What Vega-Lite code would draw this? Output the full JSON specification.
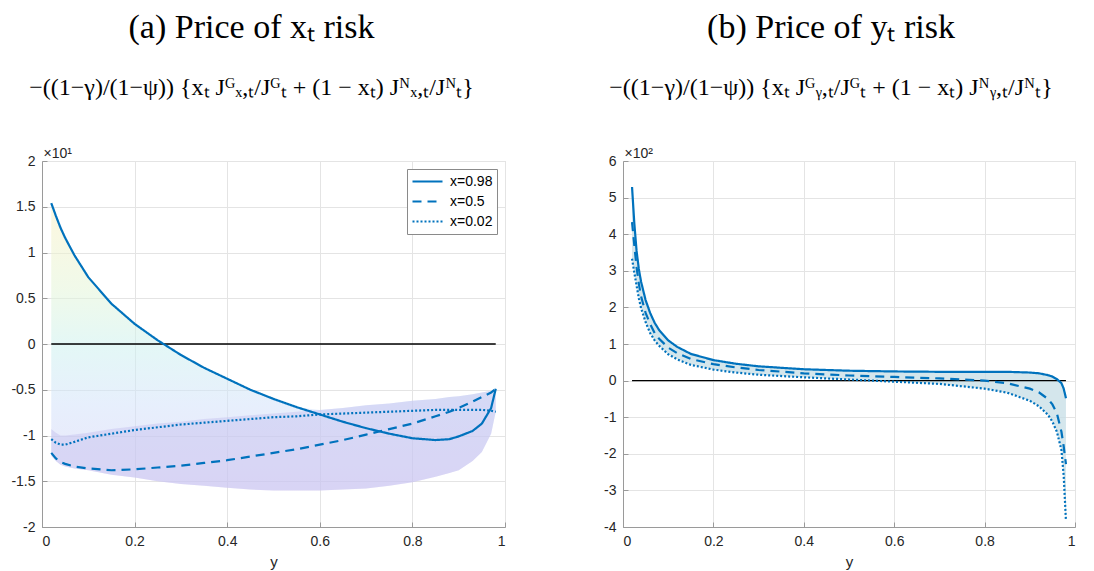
{
  "$schema": "https://vega.github.io/schema/vega-lite/v6.json",
  "background": "white",
  "padding": {"left": 10, "top": 10, "right": 5, "bottom": 2},
  "spacing": 97,
  "config": {
    "view": {"stroke": "#d4d4d4", "strokeWidth": 1},
    "axis": {
      "labelFont": "Liberation Sans", "labelFontSize": 14, "labelColor": "#262626", "labelOverlap": false,
      "titleFont": "Liberation Sans", "titleFontSize": 15, "titleColor": "#262626", "titleFontWeight": "normal",
      "gridColor": "#e4e4e4", "gridWidth": 1, "domainColor": "#9a9a9a", "tickColor": "#9a9a9a",
      "tickSize": -5, "labelPadding": 12
    },
    "title": {
      "font": "Liberation Serif", "fontSize": 34, "fontWeight": "normal", "color": "#000000",
      "subtitleFont": "Liberation Serif", "subtitleFontSize": 24, "subtitleColor": "#000000",
      "anchor": "middle", "subtitlePadding": 31, "offset": 46
    }
  },
  "datasets": {
    "leftLines": [
      {"y": 0.02, "x": "x=0.98", "v": 1.54}, {"y": 0.03, "x": "x=0.98", "v": 1.4}, {"y": 0.04, "x": "x=0.98", "v": 1.27}, {"y": 0.05, "x": "x=0.98", "v": 1.16}, {"y": 0.07, "x": "x=0.98", "v": 0.97}, {"y": 0.1, "x": "x=0.98", "v": 0.73}, {"y": 0.15, "x": "x=0.98", "v": 0.44}, {"y": 0.2, "x": "x=0.98", "v": 0.22}, {"y": 0.25, "x": "x=0.98", "v": 0.04}, {"y": 0.3, "x": "x=0.98", "v": -0.12}, {"y": 0.35, "x": "x=0.98", "v": -0.26}, {"y": 0.4, "x": "x=0.98", "v": -0.38}, {"y": 0.45, "x": "x=0.98", "v": -0.5}, {"y": 0.5, "x": "x=0.98", "v": -0.6}, {"y": 0.55, "x": "x=0.98", "v": -0.69}, {"y": 0.6, "x": "x=0.98", "v": -0.77}, {"y": 0.65, "x": "x=0.98", "v": -0.85}, {"y": 0.7, "x": "x=0.98", "v": -0.92}, {"y": 0.75, "x": "x=0.98", "v": -0.98}, {"y": 0.8, "x": "x=0.98", "v": -1.03}, {"y": 0.85, "x": "x=0.98", "v": -1.05}, {"y": 0.88, "x": "x=0.98", "v": -1.04}, {"y": 0.9, "x": "x=0.98", "v": -1.01}, {"y": 0.93, "x": "x=0.98", "v": -0.95}, {"y": 0.95, "x": "x=0.98", "v": -0.87}, {"y": 0.97, "x": "x=0.98", "v": -0.7}, {"y": 0.98, "x": "x=0.98", "v": -0.49},
      {"y": 0.02, "x": "x=0.5", "v": -1.19}, {"y": 0.03, "x": "x=0.5", "v": -1.25}, {"y": 0.04, "x": "x=0.5", "v": -1.29}, {"y": 0.05, "x": "x=0.5", "v": -1.31}, {"y": 0.07, "x": "x=0.5", "v": -1.34}, {"y": 0.1, "x": "x=0.5", "v": -1.36}, {"y": 0.15, "x": "x=0.5", "v": -1.38}, {"y": 0.2, "x": "x=0.5", "v": -1.37}, {"y": 0.25, "x": "x=0.5", "v": -1.35}, {"y": 0.3, "x": "x=0.5", "v": -1.33}, {"y": 0.35, "x": "x=0.5", "v": -1.3}, {"y": 0.4, "x": "x=0.5", "v": -1.27}, {"y": 0.45, "x": "x=0.5", "v": -1.23}, {"y": 0.5, "x": "x=0.5", "v": -1.19}, {"y": 0.55, "x": "x=0.5", "v": -1.15}, {"y": 0.6, "x": "x=0.5", "v": -1.1}, {"y": 0.65, "x": "x=0.5", "v": -1.05}, {"y": 0.7, "x": "x=0.5", "v": -0.99}, {"y": 0.75, "x": "x=0.5", "v": -0.93}, {"y": 0.8, "x": "x=0.5", "v": -0.87}, {"y": 0.85, "x": "x=0.5", "v": -0.79}, {"y": 0.88, "x": "x=0.5", "v": -0.74}, {"y": 0.9, "x": "x=0.5", "v": -0.7}, {"y": 0.93, "x": "x=0.5", "v": -0.63}, {"y": 0.95, "x": "x=0.5", "v": -0.58}, {"y": 0.97, "x": "x=0.5", "v": -0.53}, {"y": 0.98, "x": "x=0.5", "v": -0.49},
      {"y": 0.02, "x": "x=0.02", "v": -1.04}, {"y": 0.03, "x": "x=0.02", "v": -1.08}, {"y": 0.04, "x": "x=0.02", "v": -1.1}, {"y": 0.05, "x": "x=0.02", "v": -1.1}, {"y": 0.07, "x": "x=0.02", "v": -1.07}, {"y": 0.1, "x": "x=0.02", "v": -1.02}, {"y": 0.15, "x": "x=0.02", "v": -0.98}, {"y": 0.2, "x": "x=0.02", "v": -0.94}, {"y": 0.25, "x": "x=0.02", "v": -0.91}, {"y": 0.3, "x": "x=0.02", "v": -0.88}, {"y": 0.35, "x": "x=0.02", "v": -0.86}, {"y": 0.4, "x": "x=0.02", "v": -0.84}, {"y": 0.45, "x": "x=0.02", "v": -0.82}, {"y": 0.5, "x": "x=0.02", "v": -0.8}, {"y": 0.55, "x": "x=0.02", "v": -0.79}, {"y": 0.6, "x": "x=0.02", "v": -0.77}, {"y": 0.65, "x": "x=0.02", "v": -0.76}, {"y": 0.7, "x": "x=0.02", "v": -0.75}, {"y": 0.75, "x": "x=0.02", "v": -0.74}, {"y": 0.8, "x": "x=0.02", "v": -0.73}, {"y": 0.85, "x": "x=0.02", "v": -0.72}, {"y": 0.88, "x": "x=0.02", "v": -0.72}, {"y": 0.9, "x": "x=0.02", "v": -0.72}, {"y": 0.93, "x": "x=0.02", "v": -0.72}, {"y": 0.95, "x": "x=0.02", "v": -0.72}, {"y": 0.97, "x": "x=0.02", "v": -0.73}, {"y": 0.98, "x": "x=0.02", "v": -0.74}
    ],
    "leftBand": [
      {"y": 0.02, "lo": -1.22, "mid": -0.93, "hi": 1.54}, {"y": 0.03, "lo": -1.28, "mid": -0.97, "hi": 1.4}, {"y": 0.04, "lo": -1.32, "mid": -1.0, "hi": 1.27}, {"y": 0.05, "lo": -1.34, "mid": -1.0, "hi": 1.16}, {"y": 0.07, "lo": -1.36, "mid": -0.99, "hi": 0.97}, {"y": 0.1, "lo": -1.38, "mid": -0.97, "hi": 0.73}, {"y": 0.15, "lo": -1.43, "mid": -0.93, "hi": 0.44}, {"y": 0.2, "lo": -1.46, "mid": -0.9, "hi": 0.22}, {"y": 0.25, "lo": -1.5, "mid": -0.87, "hi": 0.04}, {"y": 0.3, "lo": -1.53, "mid": -0.85, "hi": -0.12}, {"y": 0.35, "lo": -1.55, "mid": -0.82, "hi": -0.26}, {"y": 0.4, "lo": -1.57, "mid": -0.8, "hi": -0.38}, {"y": 0.45, "lo": -1.59, "mid": -0.78, "hi": -0.5}, {"y": 0.5, "lo": -1.6, "mid": -0.76, "hi": -0.6}, {"y": 0.55, "lo": -1.6, "mid": -0.74, "hi": -0.69}, {"y": 0.6, "lo": -1.6, "mid": -0.72, "hi": -0.72}, {"y": 0.65, "lo": -1.59, "mid": -0.7, "hi": -0.7}, {"y": 0.7, "lo": -1.58, "mid": -0.67, "hi": -0.67}, {"y": 0.75, "lo": -1.55, "mid": -0.65, "hi": -0.65}, {"y": 0.8, "lo": -1.51, "mid": -0.62, "hi": -0.62}, {"y": 0.85, "lo": -1.45, "mid": -0.6, "hi": -0.6}, {"y": 0.88, "lo": -1.41, "mid": -0.58, "hi": -0.58}, {"y": 0.9, "lo": -1.38, "mid": -0.57, "hi": -0.57}, {"y": 0.93, "lo": -1.28, "mid": -0.55, "hi": -0.55}, {"y": 0.95, "lo": -1.18, "mid": -0.53, "hi": -0.53}, {"y": 0.97, "lo": -0.98, "mid": -0.51, "hi": -0.51}, {"y": 0.98, "lo": -0.74, "mid": -0.49, "hi": -0.49}
    ],
    "rightLines": [
      {"y": 0.02, "x": "x=0.98", "v": 5.29}, {"y": 0.025, "x": "x=0.98", "v": 4.3}, {"y": 0.03, "x": "x=0.98", "v": 3.55}, {"y": 0.035, "x": "x=0.98", "v": 3.05}, {"y": 0.04, "x": "x=0.98", "v": 2.7}, {"y": 0.05, "x": "x=0.98", "v": 2.2}, {"y": 0.06, "x": "x=0.98", "v": 1.85}, {"y": 0.07, "x": "x=0.98", "v": 1.58}, {"y": 0.08, "x": "x=0.98", "v": 1.38}, {"y": 0.1, "x": "x=0.98", "v": 1.1}, {"y": 0.12, "x": "x=0.98", "v": 0.92}, {"y": 0.15, "x": "x=0.98", "v": 0.73}, {"y": 0.2, "x": "x=0.98", "v": 0.56}, {"y": 0.25, "x": "x=0.98", "v": 0.46}, {"y": 0.3, "x": "x=0.98", "v": 0.39}, {"y": 0.4, "x": "x=0.98", "v": 0.31}, {"y": 0.5, "x": "x=0.98", "v": 0.27}, {"y": 0.6, "x": "x=0.98", "v": 0.25}, {"y": 0.7, "x": "x=0.98", "v": 0.24}, {"y": 0.8, "x": "x=0.98", "v": 0.24}, {"y": 0.85, "x": "x=0.98", "v": 0.24}, {"y": 0.9, "x": "x=0.98", "v": 0.22}, {"y": 0.92, "x": "x=0.98", "v": 0.2}, {"y": 0.94, "x": "x=0.98", "v": 0.15}, {"y": 0.95, "x": "x=0.98", "v": 0.11}, {"y": 0.96, "x": "x=0.98", "v": 0.04}, {"y": 0.97, "x": "x=0.98", "v": -0.07}, {"y": 0.975, "x": "x=0.98", "v": -0.22}, {"y": 0.98, "x": "x=0.98", "v": -0.48},
      {"y": 0.02, "x": "x=0.5", "v": 4.33}, {"y": 0.025, "x": "x=0.5", "v": 3.7}, {"y": 0.03, "x": "x=0.5", "v": 3.1}, {"y": 0.035, "x": "x=0.5", "v": 2.65}, {"y": 0.04, "x": "x=0.5", "v": 2.3}, {"y": 0.05, "x": "x=0.5", "v": 1.85}, {"y": 0.06, "x": "x=0.5", "v": 1.55}, {"y": 0.07, "x": "x=0.5", "v": 1.3}, {"y": 0.08, "x": "x=0.5", "v": 1.14}, {"y": 0.1, "x": "x=0.5", "v": 0.9}, {"y": 0.12, "x": "x=0.5", "v": 0.75}, {"y": 0.15, "x": "x=0.5", "v": 0.59}, {"y": 0.2, "x": "x=0.5", "v": 0.45}, {"y": 0.25, "x": "x=0.5", "v": 0.36}, {"y": 0.3, "x": "x=0.5", "v": 0.29}, {"y": 0.4, "x": "x=0.5", "v": 0.2}, {"y": 0.5, "x": "x=0.5", "v": 0.14}, {"y": 0.6, "x": "x=0.5", "v": 0.1}, {"y": 0.7, "x": "x=0.5", "v": 0.06}, {"y": 0.8, "x": "x=0.5", "v": 0.0}, {"y": 0.85, "x": "x=0.5", "v": -0.07}, {"y": 0.9, "x": "x=0.5", "v": -0.22}, {"y": 0.92, "x": "x=0.5", "v": -0.32}, {"y": 0.94, "x": "x=0.5", "v": -0.5}, {"y": 0.95, "x": "x=0.5", "v": -0.65}, {"y": 0.96, "x": "x=0.5", "v": -0.9}, {"y": 0.97, "x": "x=0.5", "v": -1.4}, {"y": 0.975, "x": "x=0.5", "v": -1.8}, {"y": 0.98, "x": "x=0.5", "v": -2.28},
      {"y": 0.02, "x": "x=0.02", "v": 3.33}, {"y": 0.025, "x": "x=0.02", "v": 2.95}, {"y": 0.03, "x": "x=0.02", "v": 2.6}, {"y": 0.035, "x": "x=0.02", "v": 2.25}, {"y": 0.04, "x": "x=0.02", "v": 1.98}, {"y": 0.05, "x": "x=0.02", "v": 1.6}, {"y": 0.06, "x": "x=0.02", "v": 1.3}, {"y": 0.07, "x": "x=0.02", "v": 1.1}, {"y": 0.08, "x": "x=0.02", "v": 0.95}, {"y": 0.1, "x": "x=0.02", "v": 0.72}, {"y": 0.12, "x": "x=0.02", "v": 0.58}, {"y": 0.15, "x": "x=0.02", "v": 0.43}, {"y": 0.2, "x": "x=0.02", "v": 0.3}, {"y": 0.25, "x": "x=0.02", "v": 0.22}, {"y": 0.3, "x": "x=0.02", "v": 0.16}, {"y": 0.4, "x": "x=0.02", "v": 0.09}, {"y": 0.5, "x": "x=0.02", "v": 0.03}, {"y": 0.6, "x": "x=0.02", "v": -0.03}, {"y": 0.7, "x": "x=0.02", "v": -0.09}, {"y": 0.8, "x": "x=0.02", "v": -0.22}, {"y": 0.85, "x": "x=0.02", "v": -0.33}, {"y": 0.9, "x": "x=0.02", "v": -0.55}, {"y": 0.92, "x": "x=0.02", "v": -0.7}, {"y": 0.94, "x": "x=0.02", "v": -0.93}, {"y": 0.95, "x": "x=0.02", "v": -1.12}, {"y": 0.96, "x": "x=0.02", "v": -1.4}, {"y": 0.97, "x": "x=0.02", "v": -1.9}, {"y": 0.975, "x": "x=0.02", "v": -2.6}, {"y": 0.98, "x": "x=0.02", "v": -3.83}
    ],
    "rightBand": [
      {"y": 0.02, "lo": 3.33, "hi": 5.29}, {"y": 0.025, "lo": 2.95, "hi": 4.3}, {"y": 0.03, "lo": 2.6, "hi": 3.55}, {"y": 0.035, "lo": 2.25, "hi": 3.05}, {"y": 0.04, "lo": 1.98, "hi": 2.7}, {"y": 0.05, "lo": 1.6, "hi": 2.2}, {"y": 0.06, "lo": 1.3, "hi": 1.85}, {"y": 0.07, "lo": 1.1, "hi": 1.58}, {"y": 0.08, "lo": 0.95, "hi": 1.38}, {"y": 0.1, "lo": 0.72, "hi": 1.1}, {"y": 0.12, "lo": 0.58, "hi": 0.92}, {"y": 0.15, "lo": 0.43, "hi": 0.73}, {"y": 0.2, "lo": 0.3, "hi": 0.56}, {"y": 0.25, "lo": 0.22, "hi": 0.46}, {"y": 0.3, "lo": 0.16, "hi": 0.39}, {"y": 0.4, "lo": 0.09, "hi": 0.31}, {"y": 0.5, "lo": 0.03, "hi": 0.27}, {"y": 0.6, "lo": -0.03, "hi": 0.25}, {"y": 0.7, "lo": -0.09, "hi": 0.24}, {"y": 0.8, "lo": -0.22, "hi": 0.24}, {"y": 0.85, "lo": -0.33, "hi": 0.24}, {"y": 0.9, "lo": -0.55, "hi": 0.22}, {"y": 0.92, "lo": -0.7, "hi": 0.2}, {"y": 0.94, "lo": -0.93, "hi": 0.15}, {"y": 0.95, "lo": -1.12, "hi": 0.11}, {"y": 0.96, "lo": -1.4, "hi": 0.04}, {"y": 0.97, "lo": -1.9, "hi": -0.07}, {"y": 0.975, "lo": -2.6, "hi": -0.22}, {"y": 0.98, "lo": -3.83, "hi": -0.48}
    ],
    "zero": [{"y": 0.02, "v": 0}, {"y": 0.98, "v": 0}]
  },
  "resolve": {"scale": {"y": "independent", "x": "independent"}, "legend": {"strokeDash": "independent"}},
  "hconcat": [
    {
      "width": 463, "height": 366,
      "title": {"text": "(a) Price of xₜ risk", "subtitle": "−((1−γ)/(1−ψ)) {xₜ Jᴳₓ,ₜ/Jᴳₜ + (1 − xₜ) Jᴺₓ,ₜ/Jᴺₜ}", "dx": -22},
      "layer": [
        {
          "data": {"name": "leftBand"},
          "mark": {"type": "area", "opacity": 0.55,
            "fill": {"gradient": "linear", "x1": 0, "y1": 0, "x2": 0, "y2": 1,
              "stops": [{"offset": 0, "color": "#fbf1c4"}, {"offset": 0.3, "color": "#e4f5d8"}, {"offset": 0.5, "color": "#cdf1ef"}, {"offset": 0.7, "color": "#d3e2fa"}, {"offset": 1, "color": "#d9d2f5"}]}},
          "encoding": {
            "x": {"field": "y", "type": "quantitative", "title": "y",
              "scale": {"domain": [0, 1], "nice": false, "zero": false},
              "axis": {"values": [0, 0.2, 0.4, 0.6, 0.8, 1], "tickCount": 12, "labelExpr": "toString(datum.value)", "titlePadding": 6}},
            "y": {"field": "hi", "type": "quantitative",
              "scale": {"domain": [-2, 2], "nice": false, "zero": false},
              "axis": {"values": [-2, -1.5, -1, -0.5, 0, 0.5, 1, 1.5, 2], "tickCount": 12, "labelExpr": "toString(datum.value)",
                "title": "×10¹", "titleAngle": 0, "titleAlign": "left", "titleBaseline": "bottom", "titleX": 1, "titleY": -1, "titleFontSize": 14}},
            "y2": {"field": "lo"}
          }
        },
        {
          "data": {"name": "leftBand"},
          "mark": {"type": "area", "color": "#bdb8ee", "opacity": 0.4},
          "encoding": {
            "x": {"field": "y", "type": "quantitative"},
            "y": {"field": "mid", "type": "quantitative"},
            "y2": {"field": "lo"}
          }
        },
        {
          "data": {"name": "zero"},
          "mark": {"type": "line", "color": "#000000", "strokeWidth": 1.3},
          "encoding": {
            "x": {"field": "y", "type": "quantitative"},
            "y": {"field": "v", "type": "quantitative"}
          }
        },
        {
          "data": {"name": "leftLines"},
          "mark": {"type": "line", "color": "#0072BD", "strokeWidth": 2.2},
          "encoding": {
            "x": {"field": "y", "type": "quantitative"},
            "y": {"field": "v", "type": "quantitative"},
            "strokeDash": {"field": "x", "type": "nominal",
              "scale": {"domain": ["x=0.98", "x=0.5", "x=0.02"], "range": [[1, 0], [9, 6], [2, 2]]},
              "legend": {"title": null, "orient": "top-right", "offset": 8, "symbolType": "stroke", "symbolSize": 900,
                "symbolStrokeWidth": 2.2, "symbolStrokeColor": "#0072BD", "labelFont": "Liberation Sans", "labelFontSize": 14,
                "labelColor": "#000000", "strokeColor": "#8a8a8a", "fillColor": "#ffffff", "padding": 4, "rowPadding": 3, "clipHeight": 17, "labelOffset": 6}},
            "detail": {"field": "x"}
          }
        }
      ]
    },
    {
      "width": 452, "height": 366,
      "title": {"text": "(b) Price of yₜ risk", "subtitle": "−((1−γ)/(1−ψ)) {xₜ Jᴳᵧ,ₜ/Jᴳₜ + (1 − xₜ) Jᴺᵧ,ₜ/Jᴺₜ}", "dx": -18},
      "layer": [
        {
          "data": {"name": "rightBand"},
          "mark": {"type": "area", "color": "#c5dde6", "opacity": 0.75},
          "encoding": {
            "x": {"field": "y", "type": "quantitative", "title": "y",
              "scale": {"domain": [0, 1], "nice": false, "zero": false},
              "axis": {"values": [0, 0.2, 0.4, 0.6, 0.8, 1], "tickCount": 12, "labelExpr": "toString(datum.value)", "titlePadding": 6}},
            "y": {"field": "hi", "type": "quantitative",
              "scale": {"domain": [-4, 6], "nice": false, "zero": false},
              "axis": {"values": [-4, -3, -2, -1, 0, 1, 2, 3, 4, 5, 6], "tickCount": 12, "labelExpr": "toString(datum.value)",
                "title": "×10²", "titleAngle": 0, "titleAlign": "left", "titleBaseline": "bottom", "titleX": 1, "titleY": -1, "titleFontSize": 14}},
            "y2": {"field": "lo"}
          }
        },
        {
          "data": {"name": "zero"},
          "mark": {"type": "line", "color": "#000000", "strokeWidth": 1.3},
          "encoding": {
            "x": {"field": "y", "type": "quantitative"},
            "y": {"field": "v", "type": "quantitative"}
          }
        },
        {
          "data": {"name": "rightLines"},
          "mark": {"type": "line", "color": "#0072BD", "strokeWidth": 2.2},
          "encoding": {
            "x": {"field": "y", "type": "quantitative"},
            "y": {"field": "v", "type": "quantitative"},
            "strokeDash": {"field": "x", "type": "nominal",
              "scale": {"domain": ["x=0.98", "x=0.5", "x=0.02"], "range": [[1, 0], [9, 6], [2, 2]]},
              "legend": null},
            "detail": {"field": "x"}
          }
        }
      ]
    }
  ]
}
